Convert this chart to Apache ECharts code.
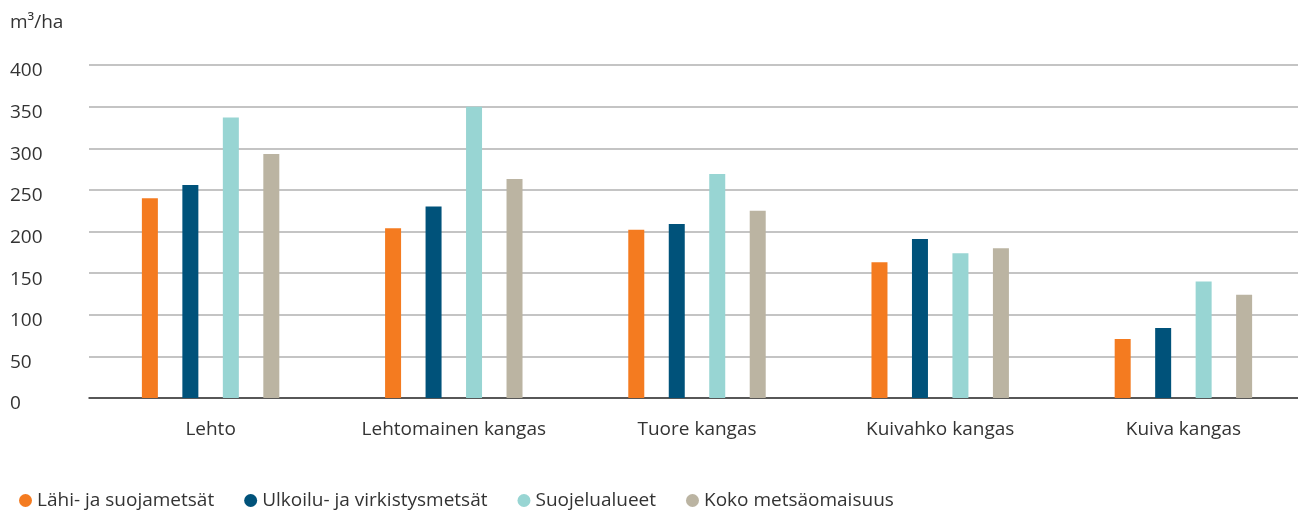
<!DOCTYPE html>
<html><head><meta charset="utf-8">
<script src="https://cdn.jsdelivr.net/npm/echarts@6/dist/echarts.min.js"></script>
<style>html,body{margin:0;padding:0;background:#fff}#c{width:1298px;height:511px}</style>
</head><body><div id="c"></div>
<script>
const categories = ['Lehto', 'Lehtomainen kangas', 'Tuore kangas', 'Kuivahko kangas', 'Kuiva kangas'];
const seriesNames = ['Lähi- ja suojametsät', 'Ulkoilu- ja virkistysmetsät', 'Suojelualueet', 'Koko metsäomaisuus'];
const lahi = [240, 204, 202, 163, 71];
const ulkoilu = [256, 230, 209, 191, 84];
const suojelu = [337, 350, 269, 174, 140];
const koko = [293, 263, 225, 180, 124];
const colors = ['#F47B20', '#00527A', '#98D5D3', '#BBB4A2'];
const yTicks = { min: 0, max: 400, interval: 50 };

const FONT = 'Open Sans';
const chart = echarts.init(document.getElementById('c'));
const values = [lahi, ulkoilu, suojelu, koko];
chart.setOption({
  animation: false,
  textStyle: { fontFamily: FONT },
  grid: { left: 89, width: 1216, top: 65, bottom: 113, outerBoundsMode: 'none', containLabel: false },
  legend: {
    left: 14, bottom: -4, icon: 'circle', itemWidth: 13, itemHeight: 13, itemGap: 30,
    textStyle: { fontFamily: FONT, fontSize: 19, color: '#333' },
    data: seriesNames
  },
  xAxis: {
    type: 'category', data: categories,
    axisLine: { lineStyle: { color: '#333', width: 1.5 } },
    axisTick: { show: false },
    axisLabel: { fontFamily: FONT, fontSize: 19, color: '#333', margin: 22 }
  },
  yAxis: {
    type: 'value', min: yTicks.min, max: yTicks.max, interval: yTicks.interval,
    name: 'm³/ha', nameLocation: 'end', nameGap: 33,
    nameTextStyle: { fontFamily: FONT, fontSize: 19, color: '#333', align: 'left', padding: [0, 0, 0, -79] },
    axisLine: { show: false }, axisTick: { show: false },
    axisLabel: { fontFamily: FONT, fontSize: 19, color: '#333', align: 'left', margin: 79, verticalAlign: 'top', lineHeight: 12 },
    splitLine: { lineStyle: { color: '#b0b0b0', width: 1.5 } }
  },
  series: seriesNames.map((n, i) => ({
    name: n, type: 'bar', data: values[i], barWidth: 16, barGap: '153%',
    itemStyle: { color: colors[i] }
  }))
});
</script></body></html>
